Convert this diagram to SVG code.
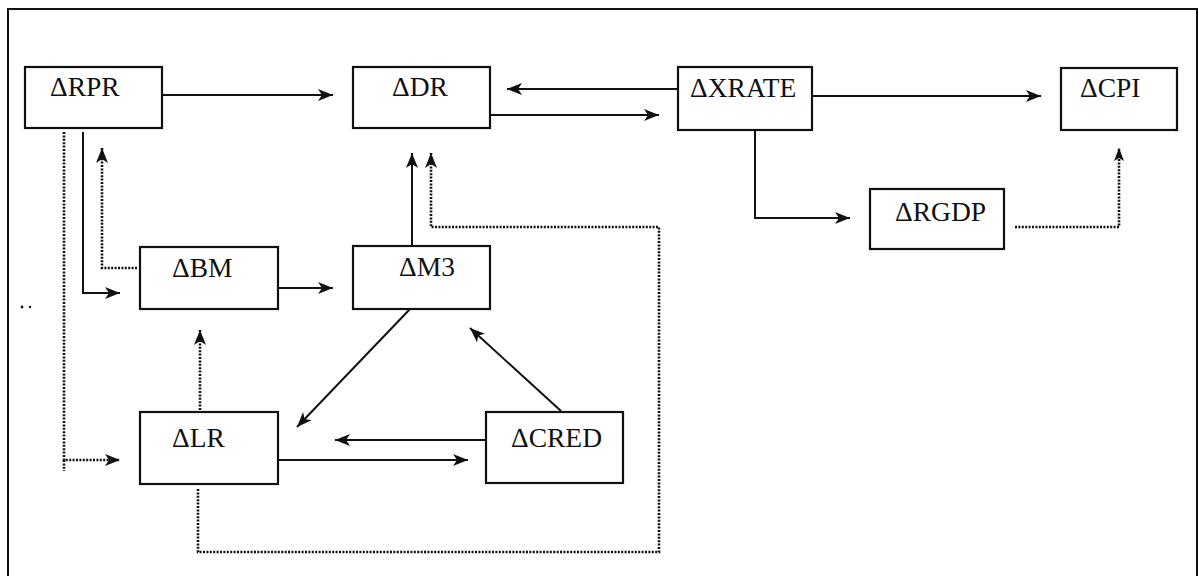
<svg xmlns="http://www.w3.org/2000/svg" width="1199" height="576" viewBox="0 0 1199 576">
<style>
.box{fill:#fff;stroke:#111;stroke-width:2.2}
.lbl{font-family:"Liberation Serif","Times New Roman",serif;font-size:27.5px;fill:#111}
.c{fill:none;stroke:#111;stroke-width:2}
.d{fill:none;stroke:#111;stroke-width:2.6;stroke-dasharray:2 1.4}
.frame{fill:none;stroke:#111;stroke-width:2}
</style>
<defs>
<marker id="ah" markerUnits="userSpaceOnUse" markerWidth="16" markerHeight="14" viewBox="0 0 16 14" refX="15" refY="7" orient="auto">
<path d="M0,1 L15,7 L0,13 L4,7 z" fill="#111"/>
</marker>
<marker id="ahs" markerUnits="userSpaceOnUse" markerWidth="14" markerHeight="12" viewBox="0 0 14 12" refX="13" refY="6" orient="auto">
<path d="M0,1 L13,6 L0,11 L3,6 z" fill="#111"/>
</marker>
</defs>
<rect width="1199" height="576" fill="#fff"/>
<path class="frame" d="M8,576 V9 H1197 V576"/>
<circle cx="22" cy="307" r="1.4" fill="#111"/>
<circle cx="30" cy="307" r="1.2" fill="#111"/>

<g id="connectors">
<path class="c" d="M162,95 H333" marker-end="url(#ah)"/>
<path class="c" d="M678,89 H507" marker-end="url(#ah)"/>
<path class="c" d="M490,115 H659" marker-end="url(#ah)"/>
<path class="c" d="M812,96 H1041" marker-end="url(#ah)"/>
<path class="c" d="M755,130 V218 H850" marker-end="url(#ah)"/>
<path class="d" d="M1015,227 H1119 V148" marker-end="url(#ahs)"/>
<path class="c" d="M83,132 V293 H120" marker-end="url(#ah)"/>
<path class="d" d="M137,268 H102 V148" marker-end="url(#ah)"/>
<path class="d" d="M64,132 V460 H120" marker-end="url(#ah)"/>
<path class="d" d="M64,460 V471"/>
<path class="c" d="M278,288 H333" marker-end="url(#ah)"/>
<path class="c" d="M412,246 V153" marker-end="url(#ah)"/>
<path class="c" d="M410,309 L297,427" marker-end="url(#ah)"/>
<path class="c" d="M561,411 L470,328" marker-end="url(#ah)"/>
<path class="c" d="M486,440 H335" marker-end="url(#ah)"/>
<path class="c" d="M278,460 H468" marker-end="url(#ah)"/>
<path class="d" d="M200,410 V330" marker-end="url(#ah)"/>
<path class="d" d="M198,489 V552 H659 V227 H431 V153" marker-end="url(#ah)"/>
</g>

<g id="n-rpr"><rect class="box" x="25" y="67" width="137" height="61"/><text class="lbl" x="50" y="96">ΔRPR</text></g>
<g id="n-dr"><rect class="box" x="353" y="67" width="137" height="61"/><text class="lbl" x="392" y="96">ΔDR</text></g>
<g id="n-xrate"><rect class="box" x="678" y="67" width="134" height="63"/><text class="lbl" x="690" y="97">ΔXRATE</text></g>
<g id="n-cpi"><rect class="box" x="1061" y="68" width="116" height="62"/><text class="lbl" x="1080" y="97">ΔCPI</text></g>
<g id="n-rgdp"><rect class="box" x="870" y="189" width="134" height="60"/><text class="lbl" x="895" y="221">ΔRGDP</text></g>
<g id="n-bm"><rect class="box" x="140" y="247" width="138" height="62"/><text class="lbl" x="172" y="277">ΔBM</text></g>
<g id="n-m3"><rect class="box" x="353" y="246" width="137" height="63"/><text class="lbl" x="399" y="276">ΔM3</text></g>
<g id="n-lr"><rect class="box" x="140" y="412" width="138" height="72"/><text class="lbl" x="172" y="447">ΔLR</text></g>
<g id="n-cred"><rect class="box" x="486" y="412" width="137" height="71"/><text class="lbl" x="511" y="447">ΔCRED</text></g>
</svg>
